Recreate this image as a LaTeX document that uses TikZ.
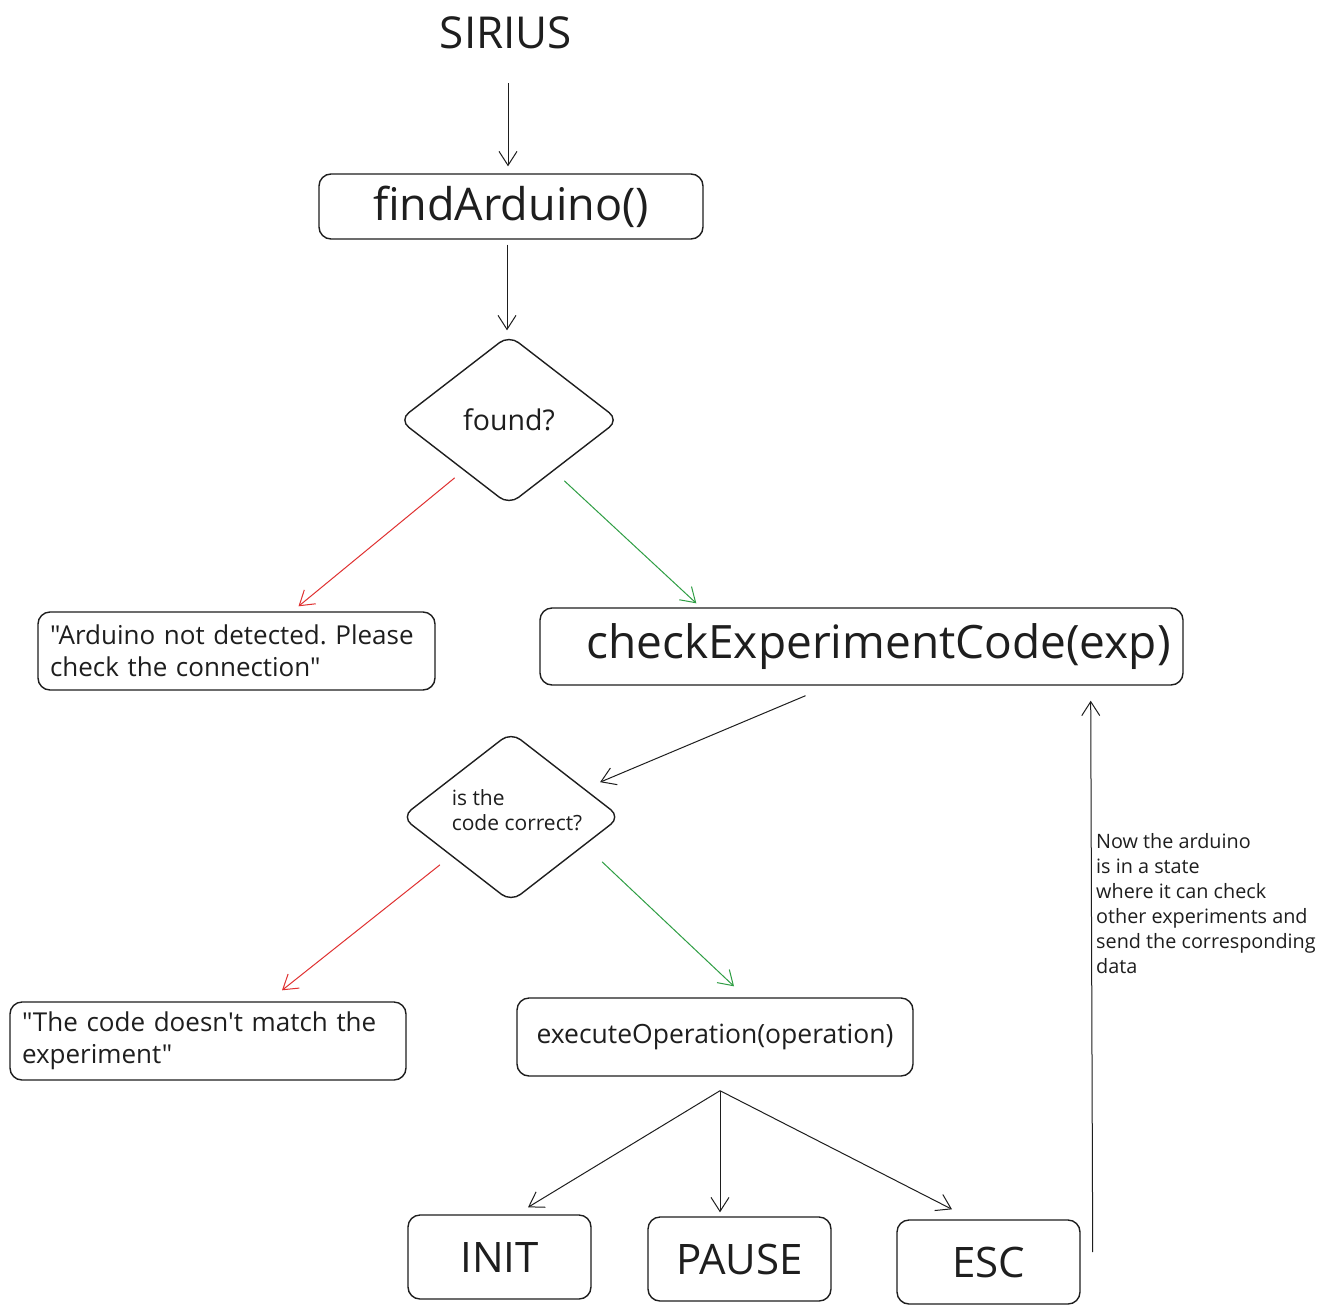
\documentclass[tikz,border=0pt]{standalone}
\usepackage{fontspec}
\setmainfont{Open Sans}[Ligatures=TeXOff]
\usetikzlibrary{arrows.meta,shapes.geometric,calc}
\definecolor{ink}{HTML}{1E1E1E}
\definecolor{xred}{HTML}{E03131}
\definecolor{xgreen}{HTML}{2F9E44}
\frenchspacing
\begin{document}
\begin{tikzpicture}[x=1pt,y=-1pt,
  box/.style={draw=ink, line width=1.4pt, rounded corners=12pt, inner sep=0pt, text=ink},
  dia/.style={draw=ink, line width=1.4pt, diamond, rounded corners=12pt, inner sep=0pt, text=ink},
  arr/.style={draw=ink, line width=1pt, -{Straight Barb[length=14pt,width=18pt,line width=1pt]}},
  redarr/.style={arr, draw=xred},
  greenarr/.style={arr, draw=xgreen}]
\useasboundingbox[fill=white] (0,0) rectangle (1332,1314);

% nodes
\node[text=ink, font=\fontsize{44}{50}\selectfont] (title) at (506,33) {SIRIUS};
\node[box, minimum width=384pt, minimum height=65pt, font=\fontsize{45}{52}\selectfont] (find) at (511,206.5) {findArduino()};
\node[dia, minimum width=220pt, minimum height=170pt, font=\fontsize{28.5}{32}\selectfont] (found) at (509,420) {found?};
\node[box, minimum width=397pt, minimum height=78pt, text width=373pt, align=left, font=\fontsize{26}{32}\selectfont] (nodet) at (236.5,651) {"Arduino not detected. Please\\check the connection"};
\node[box, minimum width=643pt, minimum height=77pt, font=\fontsize{46}{52}\selectfont] (check) at (861.5,646.5) {\hspace*{34pt}checkExperimentCode(exp)};
\node[dia, minimum width=219pt, minimum height=170pt, font=\fontsize{21}{25}\selectfont] (correct) at (511,817) {\hspace*{12pt}\raisebox{-1pt}[0pt][0pt]{\begin{tabular}{@{}l@{}}is the\\code correct?\end{tabular}}};
\node[box, minimum width=396pt, minimum height=78pt, text width=372pt, align=left, font=\fontsize{26}{32}\selectfont] (nomatch) at (208,1041) {"The code doesn't match the\\experiment"};
\node[box, minimum width=396pt, minimum height=78pt, font=\fontsize{26.5}{30}\selectfont] (exec) at (715,1037) {executeOperation(operation)};
\node[box, minimum width=183pt, minimum height=84pt, font=\fontsize{42}{48}\selectfont] (init) at (499.5,1257) {INIT};
\node[box, minimum width=183pt, minimum height=84pt, font=\fontsize{42}{48}\selectfont] (pause) at (739.5,1259) {PAUSE};
\node[box, minimum width=183pt, minimum height=84pt, font=\fontsize{42}{48}\selectfont] (esc) at (988.5,1262) {ESC};
\node[anchor=north west, align=left, inner sep=0pt, text=ink, font=\fontsize{19.8}{25}\selectfont] (note) at (1096,833) {Now the arduino\\is in a state\\where it can check\\other experiments and\\send the corresponding\\data};

% connectors
\draw[arr] ($(title.center)+(2,50)$) -- ($(find.north)+(-3,-7)$);
\draw[arr] ($(find.south)+(-4,5)$) -- ($(found.north)+(-2,-4)$);
\draw[redarr] ($(found.south west)+(1,15)$) -- ($(nodet.north)+(62,-5)$);
\draw[greenarr] ($(found.south east)+(0,18)$) -- ($(check.north west)+(157,-4)$);
\draw[arr] ($(check.south)+(-56,10)$) -- ($(correct.north east)+(34,8)$);
\draw[redarr] ($(correct.south west)+(-16,5)$) -- ($(nomatch.north)+(74,-11)$);
\draw[greenarr] ($(correct.south east)+(36,2)$) -- ($(exec.north)+(19,-11)$);
\coordinate (fork) at ($(exec.south)+(5,14)$);
\draw[arr] (fork) -- ($(init.north)+(28.5,-7)$);
\draw[arr] (fork) -- ($(pause.north)+(-19.5,-4)$);
\draw[arr] (fork) -- ($(esc.north)+(-36.5,-10)$);
\draw[arr] ($(esc.east)+(12,-10)$) -- ($(check.south east)+(-93,15)$);
\end{tikzpicture}
\end{document}
